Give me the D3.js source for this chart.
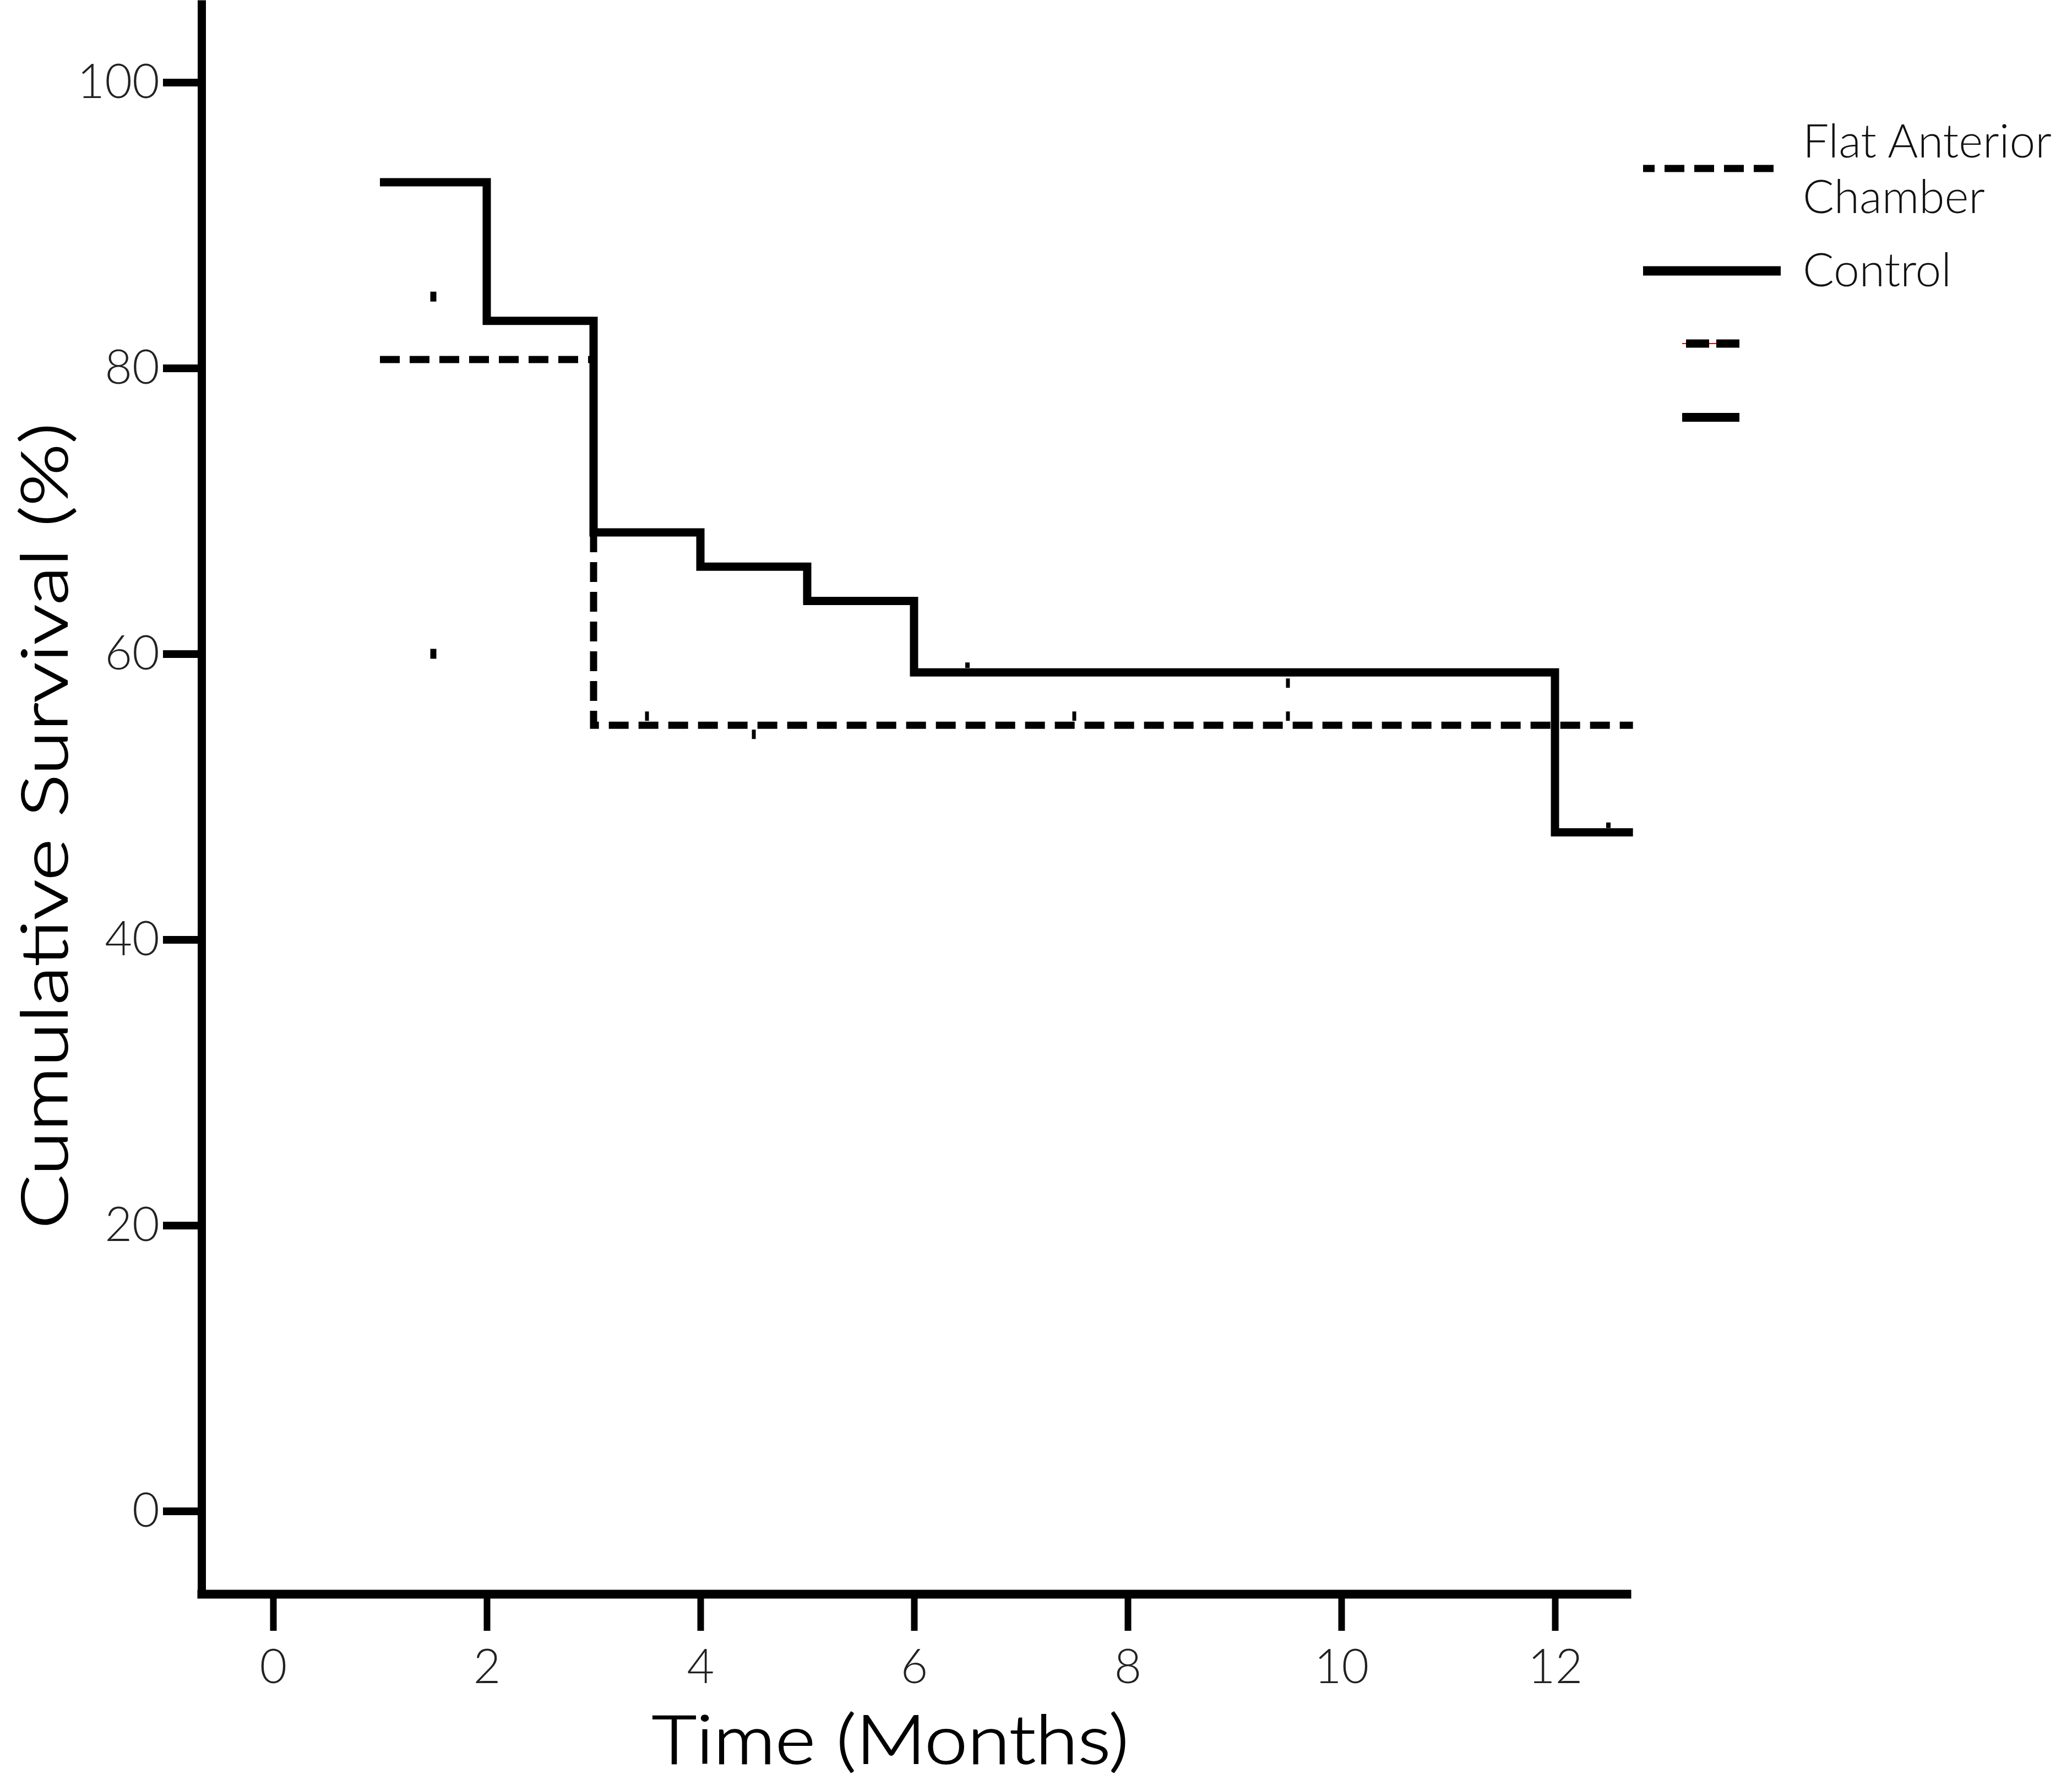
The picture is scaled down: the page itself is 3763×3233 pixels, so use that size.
<!DOCTYPE html>
<html>
<head>
<meta charset="utf-8">
<script src="https://cdn.jsdelivr.net/npm/d3@7"></script>
<style>
  body { margin: 0; background: #fff; }
  svg { display: block; }
</style>
</head>
<body>
<div class="canvas"></div>
<script>
// Kaplan-Meier data
const controlTimes = [1, 2, 3, 4, 5, 6, 12, 12.73];
const controlSurv = [93.0, 83.3, 68.5, 66.1, 63.7, 58.7, 47.5, 47.5];
const flatTimes = [1, 3, 12.73];
const flatSurv = [80.6, 55.0, 55.0];

// censored observations (months)
const controlCensor = [6.5, 12.5];
const flatCensorUp = [3.5, 7.5, 9.5];
const flatCensorDown = [4.5];
// loose marks at 1.5 months
const strayTimes = [1.5, 1.5];
const strayValues = [85, 60];

const xTicks = [0, 2, 4, 6, 8, 10, 12];
const yTicks = [0, 20, 40, 60, 80, 100];
const legendLabels = [['Flat Anterior', 'Chamber'], ['Control']];

const width = 3763;
const height = 3233;
const font = 'Lato, "Liberation Sans", Arial, sans-serif';

const svg = d3.select('.canvas')
    .append('svg')
    .attr('width', width)
    .attr('height', height);

const x = d3.scaleLinear().domain([-0.67, 12.67]).range([366, 2954]);
const y = d3.scaleLinear().domain([-5.8, 105.76]).range([2895, 0]);

// Axes
const yAxis = d3.axisLeft(y)
    .tickValues(yTicks)
    .tickSizeInner(70)
    .tickSizeOuter(0)
    .tickPadding(6);

const xAxis = d3.axisBottom(x)
    .tickValues(xTicks)
    .tickSizeInner(67)
    .tickSizeOuter(0)
    .tickPadding(34);

const yAxisGroup = svg.append('g')
    .attr('transform', `translate(${x.range()[0]}, 0)`)
    .call(yAxis);

const xAxisGroup = svg.append('g')
    .attr('transform', `translate(0, ${y.range()[0]})`)
    .call(xAxis);

yAxisGroup.select('.domain').attr('stroke-width', 15);
yAxisGroup.selectAll('.tick line').attr('stroke-width', 14);
xAxisGroup.select('.domain').attr('stroke-width', 16).attr('stroke-linecap', 'square');
xAxisGroup.selectAll('.tick line').attr('stroke-width', 12);

svg.selectAll('.tick text')
    .attr('font-family', font)
    .attr('font-weight', 300)
    .attr('font-size', 86)
    .attr('fill', '#222');

// Axis titles
svg.append('text')
    .attr('x', 1617)
    .attr('y', 3203)
    .attr('text-anchor', 'middle')
    .attr('font-family', font)
    .attr('font-weight', 300)
    .attr('font-size', 122)
    .attr('stroke', '#000')
    .attr('stroke-width', 2)
    .attr('textLength', 866)
    .attr('lengthAdjust', 'spacingAndGlyphs')
    .text('Time (Months)');

svg.append('text')
    .attr('transform', 'translate(122, 1500) rotate(-90)')
    .attr('text-anchor', 'middle')
    .attr('font-family', font)
    .attr('font-weight', 300)
    .attr('font-size', 116)
    .attr('stroke', '#000')
    .attr('stroke-width', 2)
    .attr('textLength', 1464)
    .attr('lengthAdjust', 'spacingAndGlyphs')
    .text('Cumulative Survival (%)');

// Step lines
const step = d3.line()
    .x(d => x(d[0]))
    .y(d => y(d[1]))
    .curve(d3.curveStepAfter);

const flatData = flatTimes.map((t, i) => [t, flatSurv[i]]);
const controlData = controlTimes.map((t, i) => [t, controlSurv[i]]);

svg.append('path')
    .datum(flatData)
    .attr('fill', 'none')
    .attr('stroke', '#000')
    .attr('stroke-width', 13)
    .attr('stroke-dasharray', '36,18')
    .attr('d', step);

svg.append('path')
    .datum(controlData)
    .attr('fill', 'none')
    .attr('stroke', '#000')
    .attr('stroke-width', 15)
    .attr('d', step);

// survival value at a time from a step series
const survAt = (times, surv, t) => {
    const i = d3.bisectRight(times, t) - 1;
    return surv[Math.max(0, i)];
};

// Censor ticks
const tickMark = (t, v, dir, len, w) => {
    const yy = y(v);
    svg.append('line')
        .attr('x1', x(t)).attr('x2', x(t))
        .attr('y1', yy - dir * 8)
        .attr('y2', yy - dir * (8 + len))
        .attr('stroke', '#000')
        .attr('stroke-width', w);
};

controlCensor.forEach(t => tickMark(t, survAt(controlTimes, controlSurv, t), 1, 10, 8));
flatCensorUp.forEach(t => tickMark(t, survAt(flatTimes, flatSurv, t), 1, 17, 7));
flatCensorDown.forEach(t => tickMark(t, survAt(flatTimes, flatSurv, t), -1, 17, 7));

// second dash on the 9.5 month mark
svg.append('line')
    .attr('x1', x(9.5)).attr('x2', x(9.5))
    .attr('y1', y(survAt(flatTimes, flatSurv, 9.5)) - 68)
    .attr('y2', y(survAt(flatTimes, flatSurv, 9.5)) - 85)
    .attr('stroke', '#000')
    .attr('stroke-width', 7);

strayTimes.forEach((t, i) => {
    svg.append('line')
        .attr('x1', x(t)).attr('x2', x(t))
        .attr('y1', y(strayValues[i]) - 9)
        .attr('y2', y(strayValues[i]) + 9)
        .attr('stroke', '#000')
        .attr('stroke-width', 11);
});

// Legend
const legend = svg.append('g');

legend.append('line')
    .attr('x1', 2984).attr('x2', 3234)
    .attr('y1', 306).attr('y2', 306)
    .attr('stroke', '#000')
    .attr('stroke-width', 13)
    .attr('stroke-dasharray', '36,18')
    .attr('stroke-dashoffset', 15);

legend.append('line')
    .attr('x1', 2984).attr('x2', 3234)
    .attr('y1', 492).attr('y2', 492)
    .attr('stroke', '#000')
    .attr('stroke-width', 17);

legend.append('line')
    .attr('x1', 3055).attr('x2', 3117)
    .attr('y1', 624).attr('y2', 624)
    .attr('stroke', '#e00')
    .attr('stroke-width', 2);

legend.append('line')
    .attr('x1', 3062).attr('x2', 3159)
    .attr('y1', 624).attr('y2', 624)
    .attr('stroke', '#000')
    .attr('stroke-width', 15)
    .attr('stroke-dasharray', '42,13');

legend.append('line')
    .attr('x1', 3055).attr('x2', 3159)
    .attr('y1', 758).attr('y2', 758)
    .attr('stroke', '#000')
    .attr('stroke-width', 16);

const legendBaselines = [[286, 387], [520]];
legendLabels.forEach((lines, i) => {
    lines.forEach((txt, j) => {
        legend.append('text')
            .attr('x', 3274)
            .attr('y', legendBaselines[i][j])
            .attr('font-family', font)
            .attr('font-weight', 300)
            .attr('font-size', 84)
            .attr('fill', '#111')
            .text(txt);
    });
});
</script>
</body>
</html>
